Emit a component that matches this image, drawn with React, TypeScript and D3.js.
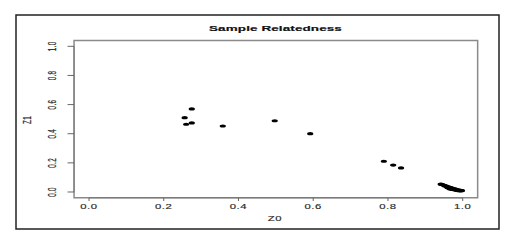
import React from "react";
import * as d3 from "d3";

const z0: number[] = [
  0.275, 0.256, 0.26, 0.275, 0.358, 0.497, 0.592, 0.789, 0.814, 0.835,
  0.941, 0.944, 0.947, 0.95, 0.952, 0.955, 0.957, 0.958, 0.96, 0.962,
  0.963, 0.965, 0.966, 0.968, 0.97, 0.972, 0.973, 0.975, 0.977, 0.979,
  0.981, 0.983, 0.985, 0.987, 0.989, 0.991, 0.993, 0.995, 0.997, 0.998,
];
const z1: number[] = [
  0.57, 0.51, 0.465, 0.474, 0.453, 0.489, 0.4, 0.211, 0.185, 0.165,
  0.054, 0.052, 0.049, 0.046, 0.042, 0.043, 0.038, 0.035, 0.03, 0.036,
  0.027, 0.032, 0.02, 0.03, 0.022, 0.027, 0.018, 0.024, 0.016, 0.021,
  0.014, 0.018, 0.011, 0.015, 0.009, 0.013, 0.008, 0.011, 0.009, 0.01,
];
const xTicks: number[] = [0, 0.2, 0.4, 0.6, 0.8, 1.0];
const yTicks: number[] = [0, 0.2, 0.4, 0.6, 0.8, 1.0];
const title = "Sample Relatedness";
const xLabel = "Z0";
const yLabel = "Z1";

const R = 1.8; // vertical squash of the reference
const W = 513;
const H = 252;

export default function App() {
  const x = d3.scaleLinear().domain([0, 1]).range([89, 462.7]);
  const y = d3.scaleLinear().domain([0, 1]).range([192 * R, 46.3 * R]);
  const [bx0, bx1] = [x(-0.04), x(1.04)];
  const [by0, by1] = [y(1.04), y(-0.04)];
  const f = 11.3;
  const font = "'Liberation Sans', Arial, Helvetica, sans-serif";
  const pts = z0.map((v, i) => [v, z1[i]]);
  const nss = "non-scaling-stroke" as any;
  const txt = { fontFamily: font, fontSize: f, fill: "#2a2a2a", stroke: "#2a2a2a", strokeWidth: 0.25, letterSpacing: 0.6 };
  return (
    <svg
      width={W}
      height={H}
      viewBox={`0 0 ${W} ${H * R}`}
      preserveAspectRatio="none"
      style={{ position: "absolute", left: 0, top: 0, background: "#fff" }}
    >
      <rect x={0} y={0} width={W} height={H * R} fill="#fff" />
      {/* outer frame */}
      <rect
        x={16}
        y={15 * R}
        width={499 - 16}
        height={(229 - 15) * R}
        fill="none"
        stroke="#222"
        strokeWidth={1.5}
        vectorEffect={nss}
      />
      {/* plot box */}
      <rect
        x={bx0}
        y={by0}
        width={bx1 - bx0}
        height={by1 - by0}
        fill="none"
        stroke="#8a8a8a"
        strokeWidth={1.5}
        vectorEffect={nss}
      />
      {/* title */}
      <text
        x={275.5}
        y={31 * R}
        textAnchor="middle"
        fontFamily={font}
        fontWeight="bold"
        fontSize={13.5}
        fill="#111"
        stroke="#111"
        strokeWidth={0.3}
        letterSpacing={0.1}
      >
        {title}
      </text>
      {/* x axis */}
      <line x1={x(0)} x2={x(1)} y1={by1} y2={by1} stroke="#777" strokeWidth={1} vectorEffect={nss} />
      {xTicks.map((t) => (
        <g key={"x" + t}>
          <line x1={x(t)} x2={x(t)} y1={by1} y2={by1 + 3.2 * R} stroke="#666" strokeWidth={1} vectorEffect={nss} />
          <text x={x(t)} y={209 * R} textAnchor="middle" {...txt}>
            {t.toFixed(1)}
          </text>
        </g>
      ))}
      <text x={275} y={221.5 * R} textAnchor="middle" {...txt}>
        {xLabel}
      </text>
      {/* y axis */}
      <line x1={bx0} x2={bx0} y1={y(0)} y2={y(1)} stroke="#777" strokeWidth={1} vectorEffect={nss} />
      {yTicks.map((t) => (
        <g key={"y" + t}>
          <line x1={bx0 - 6.5} x2={bx0} y1={y(t)} y2={y(t)} stroke="#666" strokeWidth={1} vectorEffect={nss} />
          <text transform={`translate(56, ${y(t)}) rotate(-90)`} textAnchor="middle" {...txt}>
            {t.toFixed(1)}
          </text>
        </g>
      ))}
      <text transform={`translate(31, ${120 * R}) rotate(-90)`} textAnchor="middle" {...txt}>
        {yLabel}
      </text>
      {/* points */}
      {pts.map(([a, b], i) => (
        <ellipse key={i} cx={x(a)} cy={y(b)} rx={3.1} ry={1.6 * R} fill="#000" />
      ))}
    </svg>
  );
}
